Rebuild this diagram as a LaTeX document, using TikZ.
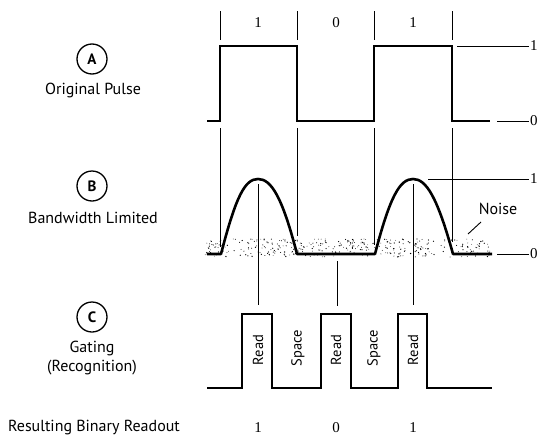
\documentclass[tikz,border=0pt]{standalone}
\usepackage{fontspec}
\setmainfont{PT Sans}
\newfontfamily\digitfont{Liberation Serif}
\begin{document}
\begin{tikzpicture}[x=1pt,y=-1pt,
  wave/.style={line width=2.6pt, line join=miter, line cap=butt},
  guide/.style={line width=0.9pt},
  lbl/.style={font=\fontsize{16}{18}\selectfont, inner sep=0pt},
  bit/.style={font=\digitfont\fontsize{15}{17}\selectfont, inner sep=0pt},
  tag/.style={circle, draw, line width=1.3pt, minimum size=30pt, inner sep=0pt,
              font=\bfseries\fontsize{15}{17}\selectfont},
  gate/.style={font=\fontsize{14.5}{16}\selectfont, rotate=90, inner sep=0pt},
]
\useasboundingbox (0,0) rectangle (537,439);

% ---- left-hand captions ----
\node[tag] (tA) at (92,59) {A};
\node[lbl] (cA) at (93,90) {Original Pulse};
\node[tag] (tB) at (92,186) {B};
\node[lbl] (cB) at (93,218) {Bandwidth Limited};
\node[tag] (tC) at (92,317) {C};
\node[lbl] (cC1) at (92,348) {Gating};
\node[lbl] (cC2) at (92,368) {(Recognition)};
\node[lbl] (cR) at (94,428) {Resulting Binary Readout};

% ---- bit cell separators and bit values ----
\foreach \x in {220,297,374,452}
  \draw[guide] (\x,11) -- (\x,40);
\node[bit] (b1) at (258,23) {1};
\node[bit] (b2) at (336,23) {0};
\node[bit] (b3) at (413,23) {1};

% ---- A: original pulse train ----
\draw[wave] (207,121) -- (220,121) -- (220,46) -- (297,46) -- (297,121)
  -- (374,121) -- (374,46) -- (452,46) -- (452,121) -- (490,121);
\draw[guide] (457,46) -- (529,46);
\draw[guide] (497,121) -- (529,121);
\node[bit, anchor=west] (lA1) at (530,46) {1};
\node[bit, anchor=west] (lA0) at (530,121) {0};

% cell edges carried down to the band-limited trace
\draw[guide] (220,128) -- (220,247);
\draw[guide] (297,128) -- (297,236);
\draw[guide] (374,128) -- (374,245);
\draw[guide] (452,128) -- (452,242);

% ---- B: noise band ----
\pgfmathsetseed{11}
\foreach \i in {1,...,380}{
  \pgfmathsetmacro\nx{205+287*rnd}
  \pgfmathsetmacro\ny{239+18*rnd}
  \pgfmathsetmacro\nr{0.35+0.35*rnd}
  \fill (\nx,\ny) circle (\nr);
}

% ---- B: band-limited response ----
\draw[wave, line join=round] (207,254) -- (221,254)
  .. controls (236,196) and (245,179) .. (258,179)
  .. controls (271,179) and (282,196) .. (297,254)
  -- (375,254)
  .. controls (390,196) and (400,179) .. (413,179)
  .. controls (426,179) and (437,196) .. (453,254)
  -- (492,254);
\draw[guide] (428,179) -- (529,179);
\draw[guide] (497,254) -- (529,254);
\node[bit, anchor=west] (lB1) at (530,179) {1};
\node[bit, anchor=west] (lB0) at (530,254) {0};
\node[lbl] (noise) at (498,209) {Noise};
\draw[guide] (481,222) -- (468,234);

% sampling instants dropped to the gate
\draw[guide] (258,184) -- (258,305);
\draw[guide] (337,261) -- (337,306);
\draw[guide] (413,184) -- (413,305);

% ---- C: gating waveform ----
\draw[wave] (207,388) -- (242,388) -- (242,314) -- (272,314) -- (272,388)
  -- (321,388) -- (321,314) -- (351,314) -- (351,388)
  -- (398,388) -- (398,314) -- (427,314) -- (427,388) -- (492,388);
\node[gate] (g1) at (258,350) {Read};
\node[gate] (s1) at (298,348) {Space};
\node[gate] (g2) at (336,350) {Read};
\node[gate] (s2) at (374,348) {Space};
\node[gate] (g3) at (413,350) {Read};

% ---- readout ----
\node[bit] (r1) at (258,428) {1};
\node[bit] (r2) at (336,428) {0};
\node[bit] (r3) at (413,428) {1};
\end{tikzpicture}
\end{document}
